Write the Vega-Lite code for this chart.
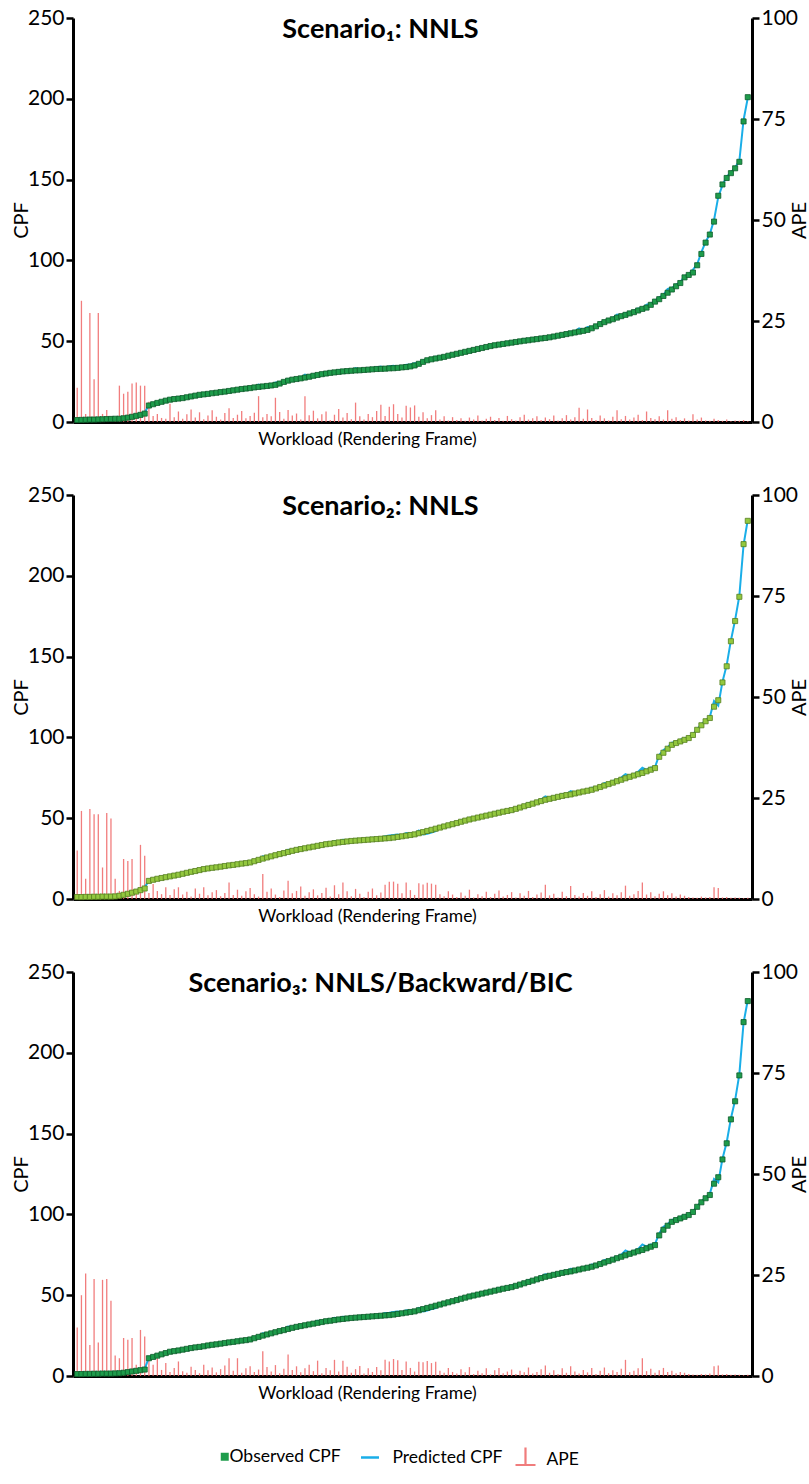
{
  "$schema": "https://vega.github.io/schema/vega-lite/v6.json",
  "background": "white",
  "padding": {"left": 11, "top": 7, "right": 4, "bottom": 5},
  "spacing": 36,
  "config": {
    "font": "Lato",
    "view": {"stroke": null},
    "axis": {"domainColor": "#000", "domainWidth": 3, "tickColor": "#000", "tickWidth": 2.5, "tickSize": 7, "labelFontSize": 21, "labelColor": "#000", "labelPadding": 2, "titleFontSize": 20, "titleFontWeight": "normal", "titleColor": "#000", "grid": false, "labelFont": "Lato", "titleFont": "Lato"},
    "legend": {"labelFont": "Lato", "labelFontSize": 17.5, "labelColor": "#000"},
    "title": {"font": "Lato", "fontSize": 27, "fontWeight": "bold", "color": "#000"}
  },
  "data": {"values": [
{"i":0,"o1":1.2,"p1":1.2,"a1":8.5,"o2":1.2,"p2":1.2,"a2":12,"o3":1.2,"p3":1.2,"a3":12},
{"i":1,"o1":1.3,"p1":1.7,"a1":30,"o2":1.2,"p2":1.5,"a2":21.8,"o3":1.2,"p3":1.2,"a3":20},
{"i":2,"o1":1.4,"p1":1.4,"a1":2,"o2":1.3,"p2":1.3,"a2":5,"o3":1.3,"p3":1.6,"a3":25.4},
{"i":3,"o1":1.5,"p1":1.1,"a1":27,"o2":1.3,"p2":1.6,"a2":22.3,"o3":1.3,"p3":1.3,"a3":7.7},
{"i":4,"o1":1.5,"p1":1.5,"a1":10.6,"o2":1.4,"p2":1.4,"a2":21,"o3":1.4,"p3":1.7,"a3":24},
{"i":5,"o1":1.6,"p1":2.0,"a1":27,"o2":1.4,"p2":1.7,"a2":21,"o3":1.4,"p3":1.4,"a3":8.3},
{"i":6,"o1":1.7,"p1":1.7,"a1":2,"o2":1.5,"p2":1.5,"a2":7.8,"o3":1.5,"p3":1.9,"a3":23.8},
{"i":7,"o1":1.8,"p1":1.8,"a1":3,"o2":1.5,"p2":1.8,"a2":21.3,"o3":1.5,"p3":1.9,"a3":24},
{"i":8,"o1":1.9,"p1":1.9,"a1":1.5,"o2":1.5,"p2":1.8,"a2":19.9,"o3":1.5,"p3":1.8,"a3":18.6},
{"i":9,"o1":2.0,"p1":2.0,"a1":1,"o2":1.6,"p2":1.6,"a2":5,"o3":1.6,"p3":1.6,"a3":5.1},
{"i":10,"o1":2.0,"p1":2.2,"a1":9,"o2":2.0,"p2":2.0,"a2":2,"o3":1.7,"p3":1.7,"a3":4.4},
{"i":11,"o1":2.3,"p1":2.5,"a1":7,"o2":2.6,"p2":2.6,"a2":9.9,"o3":2.0,"p3":2.2,"a3":9.4},
{"i":12,"o1":2.7,"p1":2.9,"a1":7.5,"o2":3.2,"p2":3.5,"a2":9.4,"o3":2.4,"p3":2.6,"a3":9},
{"i":13,"o1":3.2,"p1":3.5,"a1":9.5,"o2":3.9,"p2":4.3,"a2":9.9,"o3":2.8,"p3":3.1,"a3":9.4},
{"i":14,"o1":3.8,"p1":4.2,"a1":9.8,"o2":4.6,"p2":4.7,"a2":2.5,"o3":3.2,"p3":3.3,"a3":2.8},
{"i":15,"o1":4.4,"p1":4.8,"a1":9,"o2":5.5,"p2":6.2,"a2":13.4,"o3":3.6,"p3":4.0,"a3":11.4},
{"i":16,"o1":5.2,"p1":5.7,"a1":9,"o2":6.5,"p2":7.2,"a2":10.7,"o3":4.0,"p3":4.4,"a3":9.8},
{"i":17,"o1":10.2,"p1":10.7,"a1":5,"o2":11.2,"p2":11.4,"a2":1.5,"o3":11.0,"p3":11.4,"a3":4},
{"i":18,"o1":11.0,"p1":11.2,"a1":1.5,"o2":11.9,"p2":12.3,"a2":3.7,"o3":11.8,"p3":12.1,"a3":2.8},
{"i":19,"o1":11.8,"p1":12.0,"a1":2,"o2":12.5,"p2":12.7,"a2":2.0,"o3":12.6,"p3":13.2,"a3":4.4},
{"i":20,"o1":12.5,"p1":12.6,"a1":1,"o2":13.0,"p2":13.2,"a2":1.2,"o3":13.4,"p3":13.6,"a3":1.5},
{"i":21,"o1":13.2,"p1":13.3,"a1":0.8,"o2":13.5,"p2":13.9,"a2":2.9,"o3":14.2,"p3":14.7,"a3":3.2},
{"i":22,"o1":13.8,"p1":14.4,"a1":4.5,"o2":14.0,"p2":14.1,"a2":1.0,"o3":15.0,"p3":15.2,"a3":1.0},
{"i":23,"o1":14.2,"p1":14.4,"a1":1.2,"o2":14.5,"p2":14.8,"a2":2.4,"o3":15.4,"p3":15.7,"a3":2.0},
{"i":24,"o1":14.5,"p1":14.9,"a1":2.6,"o2":15.0,"p2":15.4,"a2":2.9,"o3":15.8,"p3":16.4,"a3":3.6},
{"i":25,"o1":14.8,"p1":14.9,"a1":0.8,"o2":15.6,"p2":15.8,"a2":1.1,"o3":16.3,"p3":16.5,"a3":1.2},
{"i":26,"o1":15.3,"p1":15.6,"a1":1.9,"o2":16.2,"p2":16.5,"a2":1.8,"o3":16.8,"p3":16.9,"a3":0.8},
{"i":27,"o1":15.8,"p1":16.3,"a1":3.1,"o2":16.8,"p2":16.9,"a2":0.6,"o3":17.3,"p3":17.7,"a3":2.3},
{"i":28,"o1":16.3,"p1":16.5,"a1":1.1,"o2":17.3,"p2":17.7,"a2":2.6,"o3":17.7,"p3":18.0,"a3":1.5},
{"i":29,"o1":16.8,"p1":17.2,"a1":2.4,"o2":17.9,"p2":18.1,"a2":1.3,"o3":18.0,"p3":18.1,"a3":0.7},
{"i":30,"o1":17.1,"p1":17.2,"a1":0.7,"o2":18.5,"p2":19.0,"a2":2.9,"o3":18.4,"p3":18.9,"a3":2.8},
{"i":31,"o1":17.4,"p1":17.7,"a1":1.6,"o2":18.9,"p2":19.1,"a2":0.9,"o3":18.9,"p3":19.2,"a3":1.4},
{"i":32,"o1":17.8,"p1":18.3,"a1":2.9,"o2":19.3,"p2":19.6,"a2":1.7,"o3":19.3,"p3":19.7,"a3":2.1},
{"i":33,"o1":18.1,"p1":18.3,"a1":1.3,"o2":19.6,"p2":20.0,"a2":2.2,"o3":19.6,"p3":19.8,"a3":0.9},
{"i":34,"o1":18.5,"p1":18.6,"a1":0.6,"o2":20.0,"p2":20.1,"a2":0.7,"o3":20.0,"p3":20.3,"a3":1.7},
{"i":35,"o1":18.8,"p1":19.2,"a1":2.2,"o2":20.4,"p2":20.7,"a2":1.5,"o3":20.4,"p3":20.9,"a3":2.6},
{"i":36,"o1":19.2,"p1":19.9,"a1":3.4,"o2":20.8,"p2":21.7,"a2":4.1,"o3":20.8,"p3":21.7,"a3":4.4},
{"i":37,"o1":19.6,"p1":19.8,"a1":1.0,"o2":21.1,"p2":21.3,"a2":1.0,"o3":21.1,"p3":21.4,"a3":1.3},
{"i":38,"o1":20.0,"p1":20.4,"a1":1.8,"o2":21.5,"p2":22.0,"a2":2.3,"o3":21.5,"p3":22.4,"a3":4.4},
{"i":39,"o1":20.4,"p1":20.9,"a1":2.7,"o2":21.9,"p2":22.1,"a2":0.8,"o3":21.9,"p3":22.1,"a3":0.8},
{"i":40,"o1":20.7,"p1":20.9,"a1":0.9,"o2":22.2,"p2":22.6,"a2":1.9,"o3":22.2,"p3":22.6,"a3":1.9},
{"i":41,"o1":21.0,"p1":21.3,"a1":1.5,"o2":22.6,"p2":23.2,"a2":2.7,"o3":22.6,"p3":23.1,"a3":2.4},
{"i":42,"o1":21.4,"p1":21.9,"a1":2.3,"o2":23.4,"p2":23.7,"a2":1.2,"o3":23.4,"p3":23.6,"a3":1.0},
{"i":43,"o1":21.7,"p1":23.1,"a1":6.4,"o2":24.2,"p2":24.3,"a2":0.6,"o3":24.2,"p3":24.6,"a3":1.6},
{"i":44,"o1":22.0,"p1":22.3,"a1":1.2,"o2":25.0,"p2":26.5,"a2":6.2,"o3":25.0,"p3":26.5,"a3":6.1},
{"i":45,"o1":22.3,"p1":22.7,"a1":2.0,"o2":25.7,"p2":26.2,"a2":1.8,"o3":25.7,"p3":26.3,"a3":2.2},
{"i":46,"o1":22.6,"p1":22.9,"a1":1.4,"o2":26.4,"p2":27.1,"a2":2.6,"o3":26.4,"p3":26.7,"a3":1.1},
{"i":47,"o1":23.0,"p1":24.4,"a1":6.0,"o2":27.1,"p2":27.4,"a2":1.1,"o3":27.1,"p3":27.8,"a3":2.7},
{"i":48,"o1":23.8,"p1":24.4,"a1":2.5,"o2":27.8,"p2":27.9,"a2":0.5,"o3":27.8,"p3":28.0,"a3":0.7},
{"i":49,"o1":24.8,"p1":25.0,"a1":0.8,"o2":28.4,"p2":29.0,"a2":2.1,"o3":28.4,"p3":28.9,"a3":1.8},
{"i":50,"o1":25.6,"p1":26.4,"a1":3.0,"o2":29.1,"p2":30.4,"a2":4.5,"o3":29.1,"p3":30.6,"a3":5.3},
{"i":51,"o1":26.2,"p1":26.6,"a1":1.6,"o2":29.8,"p2":30.2,"a2":1.4,"o3":29.8,"p3":30.2,"a3":1.5},
{"i":52,"o1":26.6,"p1":27.2,"a1":2.1,"o2":30.4,"p2":31.0,"a2":2.0,"o3":30.4,"p3":31.1,"a3":2.4},
{"i":53,"o1":27.0,"p1":27.2,"a1":0.6,"o2":30.9,"p2":31.9,"a2":3.1,"o3":30.9,"p3":31.2,"a3":0.9},
{"i":54,"o1":27.5,"p1":29.3,"a1":6.4,"o2":31.4,"p2":31.7,"a2":0.8,"o3":31.4,"p3":32.0,"a3":1.9},
{"i":55,"o1":28.0,"p1":28.5,"a1":1.7,"o2":31.9,"p2":32.4,"a2":1.7,"o3":31.9,"p3":32.8,"a3":2.8},
{"i":56,"o1":28.6,"p1":29.4,"a1":2.8,"o2":32.4,"p2":33.2,"a2":2.4,"o3":32.4,"p3":32.8,"a3":1.2},
{"i":57,"o1":29.1,"p1":29.4,"a1":0.9,"o2":32.9,"p2":33.2,"a2":0.9,"o3":32.9,"p3":34.1,"a3":3.8},
{"i":58,"o1":29.6,"p1":30.2,"a1":1.9,"o2":33.4,"p2":33.9,"a2":1.5,"o3":33.4,"p3":33.6,"a3":0.7},
{"i":59,"o1":30.0,"p1":30.8,"a1":2.6,"o2":33.9,"p2":34.8,"a2":2.8,"o3":33.9,"p3":34.6,"a3":2.0},
{"i":60,"o1":30.4,"p1":30.6,"a1":0.5,"o2":34.2,"p2":34.4,"a2":0.6,"o3":34.2,"p3":34.7,"a3":1.4},
{"i":61,"o1":30.7,"p1":31.3,"a1":1.8,"o2":34.6,"p2":35.8,"a2":3.4,"o3":34.6,"p3":36.0,"a3":4.0},
{"i":62,"o1":31.0,"p1":32.0,"a1":3.2,"o2":35.0,"p2":35.4,"a2":1.2,"o3":35.0,"p3":35.4,"a3":1.1},
{"i":63,"o1":31.3,"p1":31.6,"a1":1.1,"o2":35.3,"p2":36.7,"a2":4.1,"o3":35.3,"p3":36.6,"a3":3.8},
{"i":64,"o1":31.5,"p1":32.2,"a1":2.2,"o2":35.6,"p2":36.3,"a2":1.9,"o3":35.6,"p3":36.4,"a3":2.3},
{"i":65,"o1":31.7,"p1":31.9,"a1":0.7,"o2":35.9,"p2":36.2,"a2":0.7,"o3":35.9,"p3":36.2,"a3":0.8},
{"i":66,"o1":31.9,"p1":33.4,"a1":4.8,"o2":36.1,"p2":37.0,"a2":2.5,"o3":36.1,"p3":36.7,"a3":1.7},
{"i":67,"o1":32.0,"p1":32.4,"a1":1.4,"o2":36.3,"p2":36.8,"a2":1.3,"o3":36.3,"p3":37.2,"a3":2.5},
{"i":68,"o1":32.2,"p1":32.4,"a1":0.6,"o2":36.5,"p2":36.7,"a2":0.5,"o3":36.5,"p3":36.7,"a3":0.6},
{"i":69,"o1":32.4,"p1":33.0,"a1":2.0,"o2":36.7,"p2":37.4,"a2":1.8,"o3":36.7,"p3":37.4,"a3":1.9},
{"i":70,"o1":32.6,"p1":33.0,"a1":1.2,"o2":36.9,"p2":37.9,"a2":2.6,"o3":36.9,"p3":37.3,"a3":1.0},
{"i":71,"o1":32.8,"p1":33.7,"a1":2.7,"o2":37.1,"p2":37.4,"a2":0.9,"o3":37.1,"p3":37.9,"a3":2.2},
{"i":72,"o1":32.9,"p1":34.3,"a1":4.3,"o2":37.3,"p2":37.9,"a2":1.6,"o3":37.3,"p3":37.8,"a3":1.4},
{"i":73,"o1":33.0,"p1":33.5,"a1":1.5,"o2":37.5,"p2":38.8,"a2":3.5,"o3":37.5,"p3":39.0,"a3":4.0},
{"i":74,"o1":33.2,"p1":34.5,"a1":3.8,"o2":37.7,"p2":39.3,"a2":4.3,"o3":37.7,"p3":39.1,"a3":3.6},
{"i":75,"o1":33.3,"p1":34.8,"a1":4.4,"o2":38.0,"p2":39.6,"a2":4.3,"o3":38.0,"p3":39.6,"a3":4.2},
{"i":76,"o1":33.5,"p1":34.2,"a1":2.0,"o2":38.4,"p2":39.9,"a2":3.8,"o3":38.4,"p3":39.9,"a3":3.9},
{"i":77,"o1":33.8,"p1":34.2,"a1":1.1,"o2":38.8,"p2":39.3,"a2":1.4,"o3":38.8,"p3":39.4,"a3":1.5},
{"i":78,"o1":34.0,"p1":35.4,"a1":4.0,"o2":39.2,"p2":40.8,"a2":4.1,"o3":39.2,"p3":40.6,"a3":3.6},
{"i":79,"o1":34.4,"p1":35.6,"a1":3.6,"o2":39.6,"p2":40.5,"a2":2.2,"o3":39.6,"p3":40.4,"a3":2.0},
{"i":80,"o1":35.0,"p1":36.4,"a1":4.1,"o2":40.0,"p2":40.4,"a2":1.0,"o3":40.0,"p3":40.4,"a3":1.1},
{"i":81,"o1":36.0,"p1":36.5,"a1":1.3,"o2":40.7,"p2":42.3,"a2":3.9,"o3":40.7,"p3":42.1,"a3":3.5},
{"i":82,"o1":37.2,"p1":38.1,"a1":2.4,"o2":41.4,"p2":40.0,"a2":3.6,"o3":41.4,"p3":40.0,"a3":3.4},
{"i":83,"o1":38.2,"p1":38.5,"a1":0.9,"o2":42.1,"p2":40.4,"a2":4.0,"o3":42.1,"p3":40.5,"a3":3.7},
{"i":84,"o1":38.8,"p1":39.5,"a1":1.7,"o2":42.8,"p2":41.2,"a2":3.8,"o3":42.8,"p3":41.4,"a3":3.2},
{"i":85,"o1":39.3,"p1":40.4,"a1":2.9,"o2":43.5,"p2":42.0,"a2":3.5,"o3":43.5,"p3":42.0,"a3":3.5},
{"i":86,"o1":39.8,"p1":40.0,"a1":0.6,"o2":44.2,"p2":44.7,"a2":1.2,"o3":44.2,"p3":44.8,"a3":1.3},
{"i":87,"o1":40.3,"p1":40.9,"a1":1.4,"o2":44.9,"p2":45.2,"a2":0.7,"o3":44.9,"p3":45.3,"a3":0.8},
{"i":88,"o1":41.0,"p1":41.2,"a1":0.4,"o2":45.6,"p2":46.5,"a2":1.9,"o3":45.6,"p3":46.5,"a3":2.0},
{"i":89,"o1":41.6,"p1":42.1,"a1":1.2,"o2":46.3,"p2":46.8,"a2":1.1,"o3":46.3,"p3":46.8,"a3":1.0},
{"i":90,"o1":42.2,"p1":42.4,"a1":0.5,"o2":47.0,"p2":47.2,"a2":0.5,"o3":47.0,"p3":47.3,"a3":0.6},
{"i":91,"o1":42.8,"p1":43.2,"a1":0.9,"o2":47.8,"p2":48.6,"a2":1.6,"o3":47.8,"p3":48.6,"a3":1.7},
{"i":92,"o1":43.4,"p1":43.5,"a1":0.3,"o2":48.5,"p2":48.9,"a2":0.8,"o3":48.5,"p3":48.9,"a3":0.9},
{"i":93,"o1":44.0,"p1":44.5,"a1":1.1,"o2":49.2,"p2":50.3,"a2":2.3,"o3":49.2,"p3":50.3,"a3":2.2},
{"i":94,"o1":44.6,"p1":44.9,"a1":0.6,"o2":49.8,"p2":50.0,"a2":0.4,"o3":49.8,"p3":50.0,"a3":0.5},
{"i":95,"o1":45.2,"p1":45.9,"a1":1.6,"o2":50.4,"p2":51.0,"a2":1.2,"o3":50.4,"p3":51.1,"a3":1.3},
{"i":96,"o1":45.8,"p1":46.0,"a1":0.4,"o2":51.0,"p2":51.4,"a2":0.7,"o3":51.0,"p3":51.4,"a3":0.7},
{"i":97,"o1":46.4,"p1":46.8,"a1":0.8,"o2":51.6,"p2":52.5,"a2":1.8,"o3":51.6,"p3":52.6,"a3":1.9},
{"i":98,"o1":47.0,"p1":47.6,"a1":1.3,"o2":52.2,"p2":52.5,"a2":0.5,"o3":52.2,"p3":52.4,"a3":0.4},
{"i":99,"o1":47.5,"p1":47.7,"a1":0.5,"o2":52.8,"p2":53.5,"a2":1.3,"o3":52.8,"p3":53.5,"a3":1.4},
{"i":100,"o1":47.9,"p1":48.4,"a1":1.0,"o2":53.4,"p2":54.5,"a2":2.1,"o3":53.4,"p3":54.5,"a3":2.0},
{"i":101,"o1":48.3,"p1":48.4,"a1":0.3,"o2":54.0,"p2":54.3,"a2":0.6,"o3":54.0,"p3":54.4,"a3":0.7},
{"i":102,"o1":48.7,"p1":49.4,"a1":1.5,"o2":54.5,"p2":55.0,"a2":1.0,"o3":54.5,"p3":55.1,"a3":1.1},
{"i":103,"o1":49.1,"p1":49.4,"a1":0.7,"o2":55.0,"p2":55.9,"a2":1.7,"o3":55.0,"p3":55.9,"a3":1.6},
{"i":104,"o1":49.5,"p1":49.7,"a1":0.4,"o2":55.8,"p2":56.0,"a2":0.4,"o3":55.8,"p3":56.1,"a3":0.5},
{"i":105,"o1":49.9,"p1":50.5,"a1":1.2,"o2":56.6,"p2":57.4,"a2":1.4,"o3":56.6,"p3":57.3,"a3":1.3},
{"i":106,"o1":50.3,"p1":51.2,"a1":1.8,"o2":57.4,"p2":57.9,"a2":0.8,"o3":57.4,"p3":57.9,"a3":0.9},
{"i":107,"o1":50.6,"p1":50.9,"a1":0.6,"o2":58.2,"p2":59.4,"a2":2.0,"o3":58.2,"p3":59.4,"a3":2.1},
{"i":108,"o1":51.0,"p1":51.5,"a1":0.9,"o2":59.0,"p2":59.3,"a2":0.5,"o3":59.0,"p3":59.4,"a3":0.6},
{"i":109,"o1":51.3,"p1":52.0,"a1":1.4,"o2":59.8,"p2":60.5,"a2":1.1,"o3":59.8,"p3":60.4,"a3":1.0},
{"i":110,"o1":51.7,"p1":52.0,"a1":0.5,"o2":60.6,"p2":61.6,"a2":1.6,"o3":60.6,"p3":61.6,"a3":1.7},
{"i":111,"o1":52.0,"p1":52.6,"a1":1.1,"o2":61.4,"p2":63.5,"a2":3.5,"o3":61.4,"p3":63.0,"a3":2.6},
{"i":112,"o1":52.4,"p1":52.8,"a1":0.7,"o2":62.0,"p2":62.6,"a2":0.9,"o3":62.0,"p3":62.5,"a3":0.8},
{"i":113,"o1":52.9,"p1":53.7,"a1":1.6,"o2":62.6,"p2":63.4,"a2":1.3,"o3":62.6,"p3":63.5,"a3":1.4},
{"i":114,"o1":53.4,"p1":53.6,"a1":0.4,"o2":63.2,"p2":63.5,"a2":0.4,"o3":63.2,"p3":63.5,"a3":0.5},
{"i":115,"o1":53.9,"p1":54.4,"a1":0.9,"o2":63.8,"p2":64.9,"a2":1.8,"o3":63.8,"p3":65.0,"a3":1.9},
{"i":116,"o1":54.4,"p1":55.3,"a1":1.7,"o2":64.3,"p2":64.7,"a2":0.7,"o3":64.3,"p3":64.8,"a3":0.8},
{"i":117,"o1":54.9,"p1":55.2,"a1":0.6,"o2":64.7,"p2":66.8,"a2":3.2,"o3":64.7,"p3":66.3,"a3":2.4},
{"i":118,"o1":55.4,"p1":56.1,"a1":1.2,"o2":65.3,"p2":66.0,"a2":1.0,"o3":65.3,"p3":66.0,"a3":1.1},
{"i":119,"o1":55.9,"p1":57.9,"a1":3.5,"o2":65.9,"p2":66.3,"a2":0.6,"o3":65.9,"p3":66.3,"a3":0.6},
{"i":120,"o1":56.4,"p1":56.9,"a1":0.8,"o2":66.5,"p2":67.5,"a2":1.5,"o3":66.5,"p3":67.5,"a3":1.5},
{"i":121,"o1":57.0,"p1":58.8,"a1":3.1,"o2":67.0,"p2":67.5,"a2":0.8,"o3":67.0,"p3":67.6,"a3":0.9},
{"i":122,"o1":58.0,"p1":58.6,"a1":1.0,"o2":67.6,"p2":68.9,"a2":1.9,"o3":67.6,"p3":69.0,"a3":2.0},
{"i":123,"o1":59.2,"p1":59.5,"a1":0.5,"o2":68.4,"p2":68.7,"a2":0.5,"o3":68.4,"p3":68.7,"a3":0.5},
{"i":124,"o1":60.6,"p1":61.6,"a1":1.6,"o2":69.3,"p2":70.1,"a2":1.2,"o3":69.3,"p3":70.2,"a3":1.3},
{"i":125,"o1":61.8,"p1":62.4,"a1":0.9,"o2":70.2,"p2":71.7,"a2":2.2,"o3":70.2,"p3":71.7,"a3":2.1},
{"i":126,"o1":62.8,"p1":63.1,"a1":0.4,"o2":71.1,"p2":71.5,"a2":0.6,"o3":71.1,"p3":71.6,"a3":0.7},
{"i":127,"o1":63.6,"p1":64.4,"a1":1.3,"o2":72.0,"p2":73.0,"a2":1.4,"o3":72.0,"p3":73.0,"a3":1.4},
{"i":128,"o1":64.6,"p1":66.5,"a1":2.9,"o2":72.9,"p2":73.6,"a2":0.9,"o3":72.9,"p3":73.6,"a3":1.0},
{"i":129,"o1":65.5,"p1":66.0,"a1":0.7,"o2":73.8,"p2":75.1,"a2":1.7,"o3":73.8,"p3":75.1,"a3":1.8},
{"i":130,"o1":66.3,"p1":67.3,"a1":1.5,"o2":74.7,"p2":77.2,"a2":3.3,"o3":74.7,"p3":77.7,"a3":4.0},
{"i":131,"o1":67.2,"p1":67.6,"a1":0.6,"o2":75.6,"p2":76.2,"a2":0.8,"o3":75.6,"p3":76.3,"a3":0.9},
{"i":132,"o1":68.0,"p1":68.7,"a1":1.1,"o2":76.4,"p2":77.3,"a2":1.2,"o3":76.4,"p3":77.4,"a3":1.3},
{"i":133,"o1":69.0,"p1":70.2,"a1":1.8,"o2":77.2,"p2":78.7,"a2":2.0,"o3":77.2,"p3":78.7,"a3":1.9},
{"i":134,"o1":70.0,"p1":70.4,"a1":0.5,"o2":78.0,"p2":81.2,"a2":4.1,"o3":78.0,"p3":81.4,"a3":4.4},
{"i":135,"o1":70.8,"p1":72.6,"a1":2.6,"o2":79.0,"p2":79.9,"a2":1.1,"o3":79.0,"p3":80.0,"a3":1.2},
{"i":136,"o1":72.5,"p1":73.2,"a1":1.0,"o2":80.0,"p2":81.4,"a2":1.7,"o3":80.0,"p3":81.4,"a3":1.8},
{"i":137,"o1":74.5,"p1":75.0,"a1":0.7,"o2":81.0,"p2":81.6,"a2":0.7,"o3":81.0,"p3":81.6,"a3":0.8},
{"i":138,"o1":76.0,"p1":77.1,"a1":1.4,"o2":88,"p2":89.1,"a2":1.3,"o3":87,"p3":88.2,"a3":1.4},
{"i":139,"o1":78.0,"p1":78.5,"a1":0.6,"o2":90.5,"p2":92.2,"a2":1.9,"o3":90.5,"p3":92.3,"a3":2.0},
{"i":140,"o1":80.0,"p1":82.3,"a1":2.9,"o2":93,"p2":93.8,"a2":0.9,"o3":93,"p3":93.9,"a3":1.0},
{"i":141,"o1":82.0,"p1":82.7,"a1":0.8,"o2":95.4,"p2":96.7,"a2":1.4,"o3":95.4,"p3":96.6,"a3":1.3},
{"i":142,"o1":84.0,"p1":85.0,"a1":1.2,"o2":96.5,"p2":97.1,"a2":0.6,"o3":96.5,"p3":97.2,"a3":0.7},
{"i":143,"o1":86.0,"p1":86.4,"a1":0.5,"o2":97.5,"p2":98.6,"a2":1.1,"o3":97.5,"p3":98.5,"a3":1.0},
{"i":144,"o1":89.5,"p1":90.3,"a1":0.9,"o2":98.5,"p2":99.3,"a2":0.8,"o3":98.5,"p3":99.3,"a3":0.8},
{"i":145,"o1":91.0,"p1":91.4,"a1":0.4,"o2":99.6,"p2":100.1,"a2":0.5,"o3":99.6,"p3":100.1,"a3":0.5},
{"i":146,"o1":92.5,"p1":94.3,"a1":1.9,"o2":101.5,"p2":101.9,"a2":0.4,"o3":101.5,"p3":101.9,"a3":0.4},
{"i":147,"o1":97.0,"p1":97.6,"a1":0.6,"o2":104.7,"p2":105,"a2":0.3,"o3":104.7,"p3":105,"a3":0.3},
{"i":148,"o1":104,"p1":105.1,"a1":1.1,"o2":107.5,"p2":108.1,"a2":0.6,"o3":107.5,"p3":108,"a3":0.5},
{"i":149,"o1":111,"p1":111.4,"a1":0.4,"o2":110,"p2":110.4,"a2":0.4,"o3":110,"p3":110.4,"a3":0.4},
{"i":150,"o1":116,"p1":116.3,"a1":0.3,"o2":112,"p2":112.6,"a2":0.5,"o3":112,"p3":112.7,"a3":0.6},
{"i":151,"o1":124,"p1":125,"a1":0.8,"o2":119,"p2":122.5,"a2":2.9,"o3":119,"p3":121.9,"a3":2.4},
{"i":152,"o1":140,"p1":139.3,"a1":0.5,"o2":123,"p2":119.7,"a2":2.7,"o3":123,"p3":119.8,"a3":2.6},
{"i":153,"o1":147,"p1":146.6,"a1":0.3,"o2":134,"p2":134.5,"a2":0.4,"o3":134,"p3":134.5,"a3":0.4},
{"i":154,"o1":151,"p1":151.9,"a1":0.6,"o2":144,"p2":144.7,"a2":0.5,"o3":144,"p3":144.7,"a3":0.5},
{"i":155,"o1":154,"p1":154.3,"a1":0.2,"o2":159.5,"p2":160,"a2":0.3,"o3":158.8,"p3":159.3,"a3":0.3},
{"i":156,"o1":157,"p1":157.6,"a1":0.4,"o2":172,"p2":172.7,"a2":0.4,"o3":170,"p3":170.7,"a3":0.4},
{"i":157,"o1":161,"p1":161.5,"a1":0.3,"o2":187,"p2":187.6,"a2":0.3,"o3":186,"p3":186.6,"a3":0.3},
{"i":158,"o1":186,"p1":186.9,"a1":0.5,"o2":219.6,"p2":219.2,"a2":0.2,"o3":219,"p3":218.6,"a3":0.2},
{"i":159,"o1":201,"p1":200.6,"a1":0.2,"o2":234,"p2":234.7,"a2":0.3,"o3":232,"p3":232.7,"a3":0.3}
  ]},
  "vconcat": [
    {
      "width": 679, "height": 404,
      "title": {"text": "Scenario₁: NNLS", "offset": -37, "dx": -32},
      "encoding": {"x": {"field": "i", "type": "quantitative", "scale": {"domain": [-1, 160], "nice": false, "zero": false}, "axis": {"title": "Workload (Rendering Frame)", "labels": false, "ticks": false, "titleX": 294, "titlePadding": 8, "titleFontSize": 17.5}}},
      "layer": [
        {"mark": {"type": "rule", "strokeWidth": 1.3, "opacity": 0.85},
         "encoding": {"y": {"field": "a1", "type": "quantitative", "title": "APE", "scale": {"domain": [0, 100], "nice": false}, "axis": {"orient": "right", "values": [0, 25, 50, 75, 100], "titleAngle": 270, "titleBaseline": "top", "titlePadding": -8}}, "y2": {"datum": 0},
           "color": {"datum": "APE", "scale": {"domain": ["APE"], "range": ["#ee6666"]},
             "legend": {"orient": "none", "legendX": 438.5, "legendY": 1428, "title": null, "symbolType": "M0,-1V0.4M-0.8,0.4H0.8", "symbolSize": 625, "symbolStrokeWidth": 2.2, "symbolOpacity": 1, "labelOffset": 7}}}},
        {"layer": [
          {"mark": {"type": "line", "strokeWidth": 2}, "encoding": {"y": {"field": "p1", "type": "quantitative", "title": "CPF", "scale": {"domain": [0, 250], "nice": false}, "axis": {"orient": "left", "values": [0, 50, 100, 150, 200, 250], "titlePadding": -4}},
            "stroke": {"datum": "Predicted CPF", "scale": {"domain": ["Predicted CPF"], "range": ["#1aaee8"]},
              "legend": {"orient": "none", "legendX": 286.5, "legendY": 1429, "title": null, "symbolType": "stroke", "symbolSize": 324, "symbolStrokeWidth": 2.5, "labelOffset": 12}}}},
          {"mark": {"type": "point", "shape": "square", "filled": true, "size": 26, "stroke": "#0d5c2b", "strokeWidth": 0.8, "opacity": 1},
           "encoding": {"y": {"field": "o1", "type": "quantitative", "title": "CPF"},
             "fill": {"datum": "Observed CPF", "scale": {"domain": ["Observed CPF"], "range": ["#1e9c4b"]},
               "legend": {"orient": "none", "legendX": 143, "legendY": 1430, "title": null, "symbolType": "square", "symbolSize": 64, "symbolStrokeWidth": 0, "labelOffset": -4}}}}
        ]}
      ],
      "resolve": {"scale": {"y": "independent"}}
    },
    {
      "width": 679, "height": 404,
      "title": {"text": "Scenario₂: NNLS", "offset": -37, "dx": -32},
      "encoding": {"x": {"field": "i", "type": "quantitative", "scale": {"domain": [-1, 160], "nice": false, "zero": false}, "axis": {"title": "Workload (Rendering Frame)", "labels": false, "ticks": false, "titleX": 294, "titlePadding": 8, "titleFontSize": 17.5}}},
      "layer": [
        {"mark": {"type": "rule", "strokeWidth": 1.3, "opacity": 0.85},
         "encoding": {"y": {"field": "a2", "type": "quantitative", "title": "APE", "scale": {"domain": [0, 100], "nice": false}, "axis": {"orient": "right", "values": [0, 25, 50, 75, 100], "titleAngle": 270, "titleBaseline": "top", "titlePadding": -8}}, "y2": {"datum": 0}, "color": {"datum": "APE"}}},
        {"layer": [
          {"mark": {"type": "line", "strokeWidth": 2}, "encoding": {"y": {"field": "p2", "type": "quantitative", "title": "CPF", "scale": {"domain": [0, 250], "nice": false}, "axis": {"orient": "left", "values": [0, 50, 100, 150, 200, 250], "titlePadding": -4}}, "stroke": {"datum": "Predicted CPF"}}},
          {"mark": {"type": "point", "shape": "square", "filled": true, "size": 26, "fill": "#93c83f", "stroke": "#557f1f", "strokeWidth": 0.8, "opacity": 1},
           "encoding": {"y": {"field": "o2", "type": "quantitative", "title": "CPF"}}}
        ]}
      ],
      "resolve": {"scale": {"y": "independent"}}
    },
    {
      "width": 679, "height": 404,
      "title": {"text": "Scenario₃: NNLS/Backward/BIC", "offset": -37, "dx": -32},
      "encoding": {"x": {"field": "i", "type": "quantitative", "scale": {"domain": [-1, 160], "nice": false, "zero": false}, "axis": {"title": "Workload (Rendering Frame)", "labels": false, "ticks": false, "titleX": 294, "titlePadding": 8, "titleFontSize": 17.5}}},
      "layer": [
        {"mark": {"type": "rule", "strokeWidth": 1.3, "opacity": 0.85},
         "encoding": {"y": {"field": "a3", "type": "quantitative", "title": "APE", "scale": {"domain": [0, 100], "nice": false}, "axis": {"orient": "right", "values": [0, 25, 50, 75, 100], "titleAngle": 270, "titleBaseline": "top", "titlePadding": -8}}, "y2": {"datum": 0}, "color": {"datum": "APE"}}},
        {"layer": [
          {"mark": {"type": "line", "strokeWidth": 2}, "encoding": {"y": {"field": "p3", "type": "quantitative", "title": "CPF", "scale": {"domain": [0, 250], "nice": false}, "axis": {"orient": "left", "values": [0, 50, 100, 150, 200, 250], "titlePadding": -4}}, "stroke": {"datum": "Predicted CPF"}}},
          {"mark": {"type": "point", "shape": "square", "filled": true, "size": 26, "stroke": "#0d5c2b", "strokeWidth": 0.8, "opacity": 1},
           "encoding": {"y": {"field": "o3", "type": "quantitative", "title": "CPF"}, "fill": {"datum": "Observed CPF"}}}
        ]}
      ],
      "resolve": {"scale": {"y": "independent"}}
    }
  ]
}
